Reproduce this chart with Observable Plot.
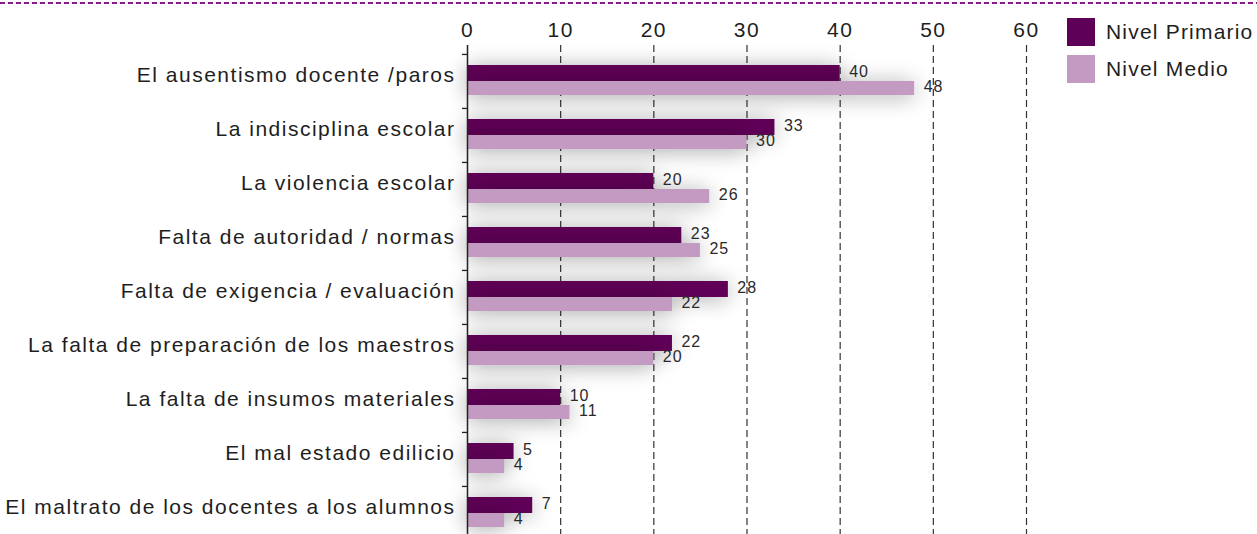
<!DOCTYPE html>
<html>
<head>
<meta charset="utf-8">
<script src="https://cdn.jsdelivr.net/npm/d3@7"></script>
<script src="https://cdn.jsdelivr.net/npm/@observablehq/plot@0.6"></script>
<style>
  html, body { margin: 0; padding: 0; background: #fff; }
  #wrap { position: relative; width: 1257px; height: 534px; overflow: hidden; font-family: "Liberation Sans", Arial, Helvetica, sans-serif; }
  #topline { position: absolute; left: 0; top: 2px; width: 1257px; height: 2px;
    background: repeating-linear-gradient(to right, #8c1a8a 0 5px, transparent 5px 8px); }
  #legend { position: absolute; left: 1067px; top: 18px; }
  .item { display: flex; align-items: center; height: 28px; margin-bottom: 9px; white-space: nowrap; }
  .sw { width: 28px; height: 28px; margin-right: 11px; flex: none; }
  .lab { font-size: 21px; letter-spacing: 1.2px; color: #1e1e1e; white-space: nowrap; }
</style>
</head>
<body>
<div id="wrap">
  <div id="chart"></div>
  <div id="topline"></div>
  <div id="legend"></div>
</div>
<script>
const categories = [
  "El ausentismo docente /paros",
  "La indisciplina escolar",
  "La violencia escolar",
  "Falta de autoridad / normas",
  "Falta de exigencia / evaluación",
  "La falta de preparación de los maestros",
  "La falta de insumos materiales",
  "El mal estado edilicio",
  "El maltrato de los docentes a los alumnos"
];
const series = ["Nivel Primario", "Nivel Medio"];
const primario = [40, 33, 20, 23, 28, 22, 10, 5, 7];
const medio = [48, 30, 26, 25, 22, 20, 11, 4, 4];
const xTicks = [0, 10, 20, 30, 40, 50, 60];
const colors = ["#5e0057", "#c39ac1"];

const rowsP = categories.map((c, i) => ({category: c, series: series[0], value: primario[i]}));
const rowsM = categories.map((c, i) => ({category: c, series: series[1], value: medio[i]}));

// layout / style
const W = 1257, H = 534;
const yRange = [52, 539];
const padIn = 0.445, padOut = padIn / 2;
const step = (yRange[1] - yRange[0]) / (categories.length - padIn + 2 * padOut);
const bw = step * (1 - padIn);
const half = bw / 2;

const font = "Liberation Sans, Arial, Helvetica, sans-serif";

const chart = Plot.plot({
  width: W,
  height: H,
  marginTop: 45,
  marginLeft: 467,
  marginRight: 231,
  marginBottom: 0,
  style: {fontFamily: font, color: "#1e1e1e", background: "transparent", overflow: "visible"},
  x: {domain: [0, 60], label: null},
  y: {domain: categories, range: yRange, paddingInner: padIn, paddingOuter: padOut, label: null},
  marks: [
    Plot.ruleX(xTicks.filter(d => d > 0), {stroke: "#333", strokeWidth: 1.2, strokeDasharray: "7,4"}),
    Plot.barX(rowsP, {x: "value", y: "category", fill: colors[0], insetBottom: half - 1, insetTop: 0, className: "bars"}),
    Plot.barX(rowsM, {x: "value", y: "category", fill: colors[1], insetTop: half + 1, insetBottom: 0, className: "bars"}),
    Plot.ruleX([0], {stroke: "#222", strokeWidth: 1.5}),
    Plot.axisX(xTicks, {anchor: "top", label: null, tickSize: 0, tickPadding: 9, fontSize: 21, fill: "#1e1e1e"}),
    Plot.axisY({anchor: "left", label: null, tickSize: 0, tickPadding: 12, dy: -5, fontSize: 21, fill: "#1e1e1e"}),
    Plot.axisY({anchor: "left", label: null, tickSize: 5, stroke: "#222", strokeWidth: 1.3, tickFormat: () => "", dy: -step / 2 + 1}),
    Plot.text(rowsP, {x: "value", y: "category", text: d => String(d.value), textAnchor: "start", dx: 9, dy: -half / 2 - 1, fontSize: 16, fill: "#2a2a2a"}),
    Plot.text(rowsM, {x: "value", y: "category", text: d => String(d.value), textAnchor: "start", dx: 9, dy: half / 2 - 1, fontSize: 16, fill: "#2a2a2a"})
  ]
});

document.getElementById("chart").appendChild(chart);

// letter spacing to match the wide typography
d3.select(chart).selectAll("text").style("letter-spacing", function() {
  const fs = parseFloat(d3.select(this).attr("font-size") || d3.select(this.parentNode).attr("font-size") || 14);
  return (fs >= 20 ? 1.5 : 1.0) + "px";
});

// soft shadow behind bars
const svg = d3.select(chart);
const defs = svg.insert("defs", ":first-child");
const f = defs.append("filter").attr("id", "barShadow")
  .attr("x", "-20%").attr("y", "-60%").attr("width", "140%").attr("height", "220%");
f.append("feGaussianBlur").attr("in", "SourceAlpha").attr("stdDeviation", 11).attr("result", "b");
f.append("feOffset").attr("in", "b").attr("dx", 0).attr("dy", 2).attr("result", "o");
f.append("feComponentTransfer").attr("in", "o").attr("result", "s")
  .append("feFuncA").attr("type", "linear").attr("slope", 0.35);
const m = f.append("feMerge");
m.append("feMergeNode").attr("in", "s");
m.append("feMergeNode").attr("in", "SourceGraphic");
svg.selectAll("g.bars, g[aria-label='bar']").attr("filter", "url(#barShadow)");

// legend
const legend = d3.select("#legend");
series.forEach((s, i) => {
  const it = legend.append("div").attr("class", "item");
  it.append("div").attr("class", "sw").style("background", colors[i]);
  it.append("div").attr("class", "lab").text(s);
});
</script>
</body>
</html>
